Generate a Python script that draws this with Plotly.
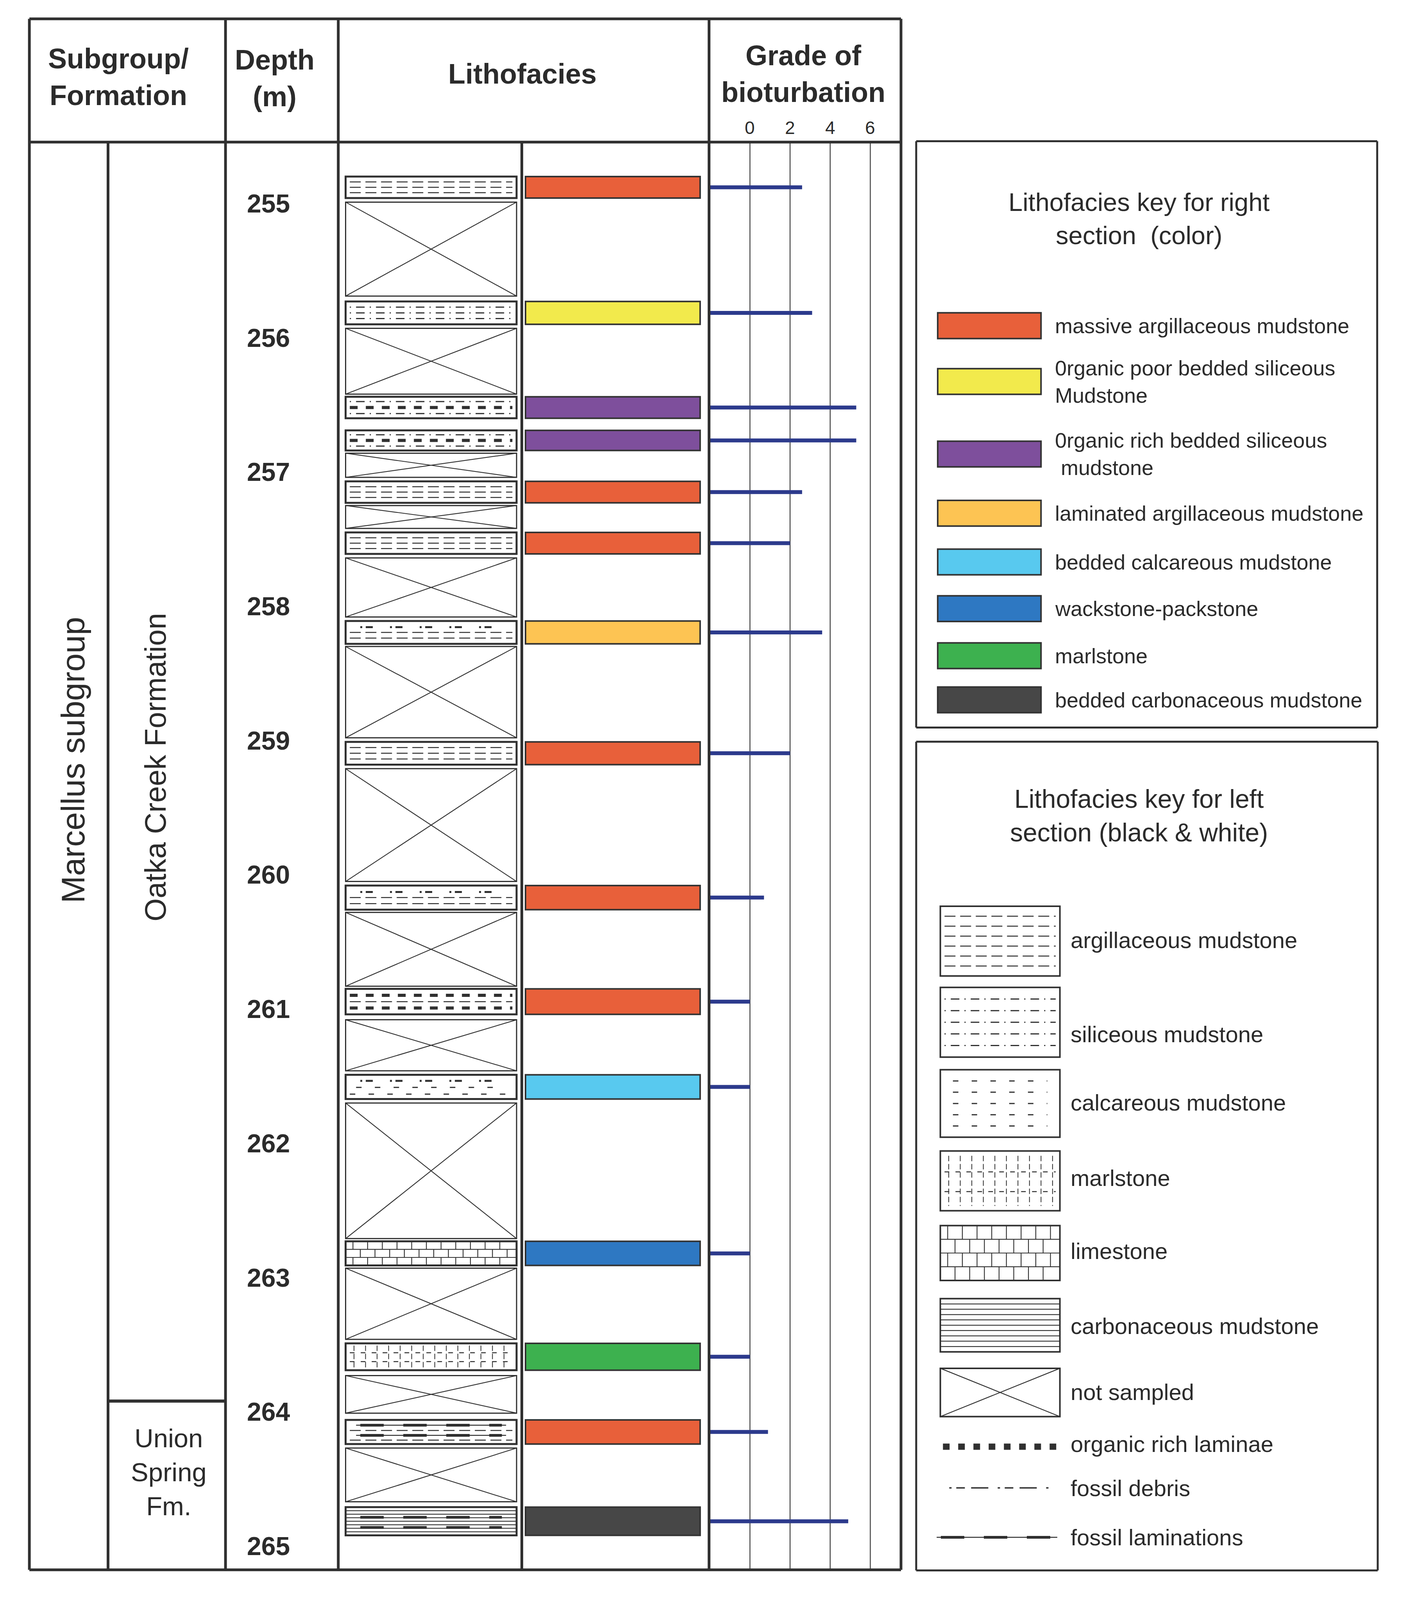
import numpy as np
import plotly.graph_objects as go

# -----------------------------
# data (depth in m)
bed_top = [254.80, 255.73, 256.44, 256.69, 257.07, 257.45, 258.11, 259.01,
           260.08, 260.85, 261.49, 262.73, 263.49, 264.06, 264.71]
bed_base = [254.96, 255.90, 256.60, 256.84, 257.23, 257.61, 258.28, 259.18,
            260.26, 261.04, 261.67, 262.91, 263.69, 264.24, 264.92]
bw_facies = ["arg", "sil", "calc", "calc", "arg", "arg", "arg", "arg",
             "arg", "arg", "calc", "lime", "marl", "arg", "carb"]
bw_accessory = ["", "", "org", "org", "", "", "debris", "",
                "debris", "org", "debris", "", "", "foslam", "foslam"]
color_facies = ["massive", "poor", "rich", "rich", "massive", "massive", "laminated", "massive",
                "massive", "massive", "calcareous", "wackstone", "marl", "massive", "carbonaceous"]
bioturbation = [2.6, 3.1, 5.3, 5.3, 2.6, 2.0, 3.6, 2.0, 0.7, 0.0, 0.0, 0.0, 0.0, 0.9, 4.9]

ns_top = [254.99, 255.93, 256.86, 257.25, 257.64, 258.30, 259.21, 260.28, 261.08, 261.70, 262.93, 263.73, 264.27]
ns_base = [255.69, 256.42, 257.04, 257.42, 258.08, 258.98, 260.05, 260.83, 261.46, 262.71, 263.46, 264.01, 264.67]

depth_ticks = [255, 256, 257, 258, 259, 260, 261, 262, 263, 264, 265]
grade_ticks = [0, 2, 4, 6]
union_spring_top = 263.92

key_color_codes = ["massive", "poor", "rich", "laminated", "calcareous", "wackstone", "marl", "carbonaceous"]
key_color_labels = ["massive argillaceous mudstone",
                    "0rganic poor bedded siliceous<br>Mudstone",
                    "0rganic rich bedded siliceous<br> mudstone",
                    "laminated argillaceous mudstone",
                    "bedded calcareous mudstone",
                    "wackstone-packstone",
                    "marlstone",
                    "bedded carbonaceous mudstone"]
key_color_values = ["#E8603A", "#F2EA4C", "#7E4F9C", "#FDC453", "#58C9EF", "#2E78C2", "#3DB14F", "#474747"]

key_bw_codes = ["arg", "sil", "calc", "marl", "lime", "carb", "ns", "org", "debris", "foslam"]
key_bw_labels = ["argillaceous mudstone", "siliceous mudstone", "calcareous mudstone", "marlstone",
                 "limestone", "carbonaceous mudstone", "not sampled", "organic rich laminae",
                 "fossil debris", "fossil laminations"]

FACIES_COLOR = dict(zip(key_color_codes, key_color_values))

# -----------------------------
# page geometry, in units of a 1350-wide canvas
W, H = 3624, 4213
S = W / 1350
CW, CH = 1350, H / S
FIG_H = 4065          # visible height of the browser page
PAD = 8 / S           # body margin of the html page
DEPTH0_Y, PX_PER_M = 198.0, 132.7
GRADE0_X, PX_PER_GRADE = 715.0, 19.12
GRADE_FLOOR = -2.05


def depth_of(yd):
    return 255 + (yd - DEPTH0_Y) / PX_PER_M


TXT = "#2b2b2b"
LINE = "#303030"
FONT = "Liberation Sans, Arial, sans-serif"

T_L, T_R, T_T, H_B, T_B = 28, 859, 15.5, 137.3, 1548.5
BW_X0, BW_X1 = 329.5, 492.5
CL_X0, CL_X1 = 501, 667.5

STYLES = {
    "arg": dict(width=2.5, dash="28px,12px"),
    "sil": dict(width=3, dash="3px,13px,22px,13px"),
    "calc": dict(width=3, dash="14px,34px"),
    "thin": dict(width=2.2, dash="solid"),
    "org": dict(width=8, dash="20px,21px"),
    "orgkey": dict(width=16, dash="17px,22px"),
    "debris": dict(width=5, dash="5px,9px,18px,44px"),
    "debriskey": dict(width=3.5, dash="6px,12px,22px,16px,44px,24px"),
    "foslam": dict(width=7, dash="60px,50px"),
    "foslamthin": dict(width=2.5, dash="solid"),
    "marlv": dict(width=2, dash="14px,7px"),
    "marlh": dict(width=2.5, dash="12px,16px"),
}

shapes, annotations = [], []
segs = {}


def add_seg(style, yref, xa, ya, xb, yb):
    xs, ys = segs.setdefault((style, yref), ([], []))
    xs += [xa, xb, None]
    ys += [ya, yb, None]


def frame(x0, y0, x1, y1, w=7, xref="x", color=LINE, layer="above"):
    shapes.append(dict(type="line", xref=xref, yref="y", x0=x0, y0=y0, x1=x1, y1=y1,
                       line=dict(color=color, width=w), layer=layer))


def box(x0, x1, ya, yb, yref, w, fill="rgba(0,0,0,0)", color=LINE):
    shapes.append(dict(type="rect", xref="x", yref=yref, x0=x0, x1=x1, y0=ya, y1=yb,
                       line=dict(color=color, width=w), fillcolor=fill, layer="below"))


def text(x, y, s, size, xref="x", yref="y", bold=False, xanchor="center", angle=0):
    annotations.append(dict(x=x, y=y, xref=xref, yref=yref, text=s, showarrow=False,
                            xanchor=xanchor, yanchor="middle", textangle=angle,
                            align="left" if xanchor == "left" else "center",
                            font=dict(family=FONT, size=size, color=TXT,
                                      weight="bold" if bold else "normal")))


def lamination(yref, xa, xb, y):
    add_seg("foslamthin", yref, xa, y, xb, y)
    add_seg("foslam", yref, xa + 4, y, xb - 4, y)


def pattern(code, acc, x0, x1, ya, yb, yref, key=False):
    def row(f, style, m=4):
        y = ya + f * (yb - ya)
        add_seg(style, yref, x0 + m, y, x1 - m, y)

    def lam(f):
        lamination(yref, x0 + 10, x1 - 10, ya + f * (yb - ya))

    if code == "arg":
        if key:
            for i in range(6):
                row((i + 1) / 7, "arg")
        elif acc == "org":
            row(0.25, "org"); row(0.5, "arg"); row(0.75, "org")
        elif acc == "debris":
            row(0.27, "debris", 14); row(0.5, "arg"); row(0.75, "arg")
        elif acc == "foslam":
            lam(0.22); row(0.44, "arg"); lam(0.64); row(0.84, "arg")
        else:
            row(0.25, "arg"); row(0.5, "arg"); row(0.75, "arg")
    elif code == "sil":
        n = 5 if key else 3
        for i in range(n):
            row((i + 1) / (n + 1), "sil")
    elif code == "calc":
        if key:
            for i in range(5):
                row((i + 1) / 6, "calc", 12)
        elif acc == "org":
            row(0.22, "sil"); row(0.5, "org"); row(0.78, "sil")
        elif acc == "debris":
            row(0.25, "debris", 14); row(0.52, "calc", 10); row(0.8, "calc")
        else:
            row(0.25, "calc"); row(0.5, "calc"); row(0.75, "calc")
    elif code == "lime":
        n = 4 if key else 3
        step = 14
        for r in range(n):
            if r > 0:
                row(r / n, "thin", 0)
            off = (r % 2) * step / 2
            for xv in np.arange(x0 + step / 2 + off, x1 - 2, step):
                add_seg("thin", yref, xv, ya + r / n * (yb - ya), xv, ya + (r + 1) / n * (yb - ya))
    elif code == "marl":
        for xv in np.arange(x0 + 8, x1 - 4, 11):
            add_seg("marlv", yref, xv, ya + 0.08 * (yb - ya), xv, ya + 0.92 * (yb - ya))
        row(0.35, "marlh"); row(0.68, "marlh")
    elif code == "carb":
        n = 9 if key else 7
        for i in range(n):
            row((i + 1) / (n + 1), "thin", 0)
        if acc == "foslam":
            row(0.36, "foslam", 14); row(0.72, "foslam", 14)
    elif code == "ns":
        add_seg("thin", yref, x0, ya, x1, yb)
        add_seg("thin", yref, x0, yb, x1, ya)


# -----------------------------
# left black & white section
for top, base, fac, acc in zip(bed_top, bed_base, bw_facies, bw_accessory):
    box(BW_X0, BW_X1, top, base, "y2", 5, fill="white")
    pattern(fac, acc, BW_X0, BW_X1, top, base, "y2")
for top, base in zip(ns_top, ns_base):
    box(BW_X0, BW_X1, top, base, "y2", 3, fill="white")
    pattern("ns", "", BW_X0, BW_X1, top, base, "y2")

# right colour section
for top, base, fac in zip(bed_top, bed_base, color_facies):
    shapes.append(dict(type="rect", xref="x", yref="y2", x0=CL_X0, x1=CL_X1, y0=top, y1=base,
                       fillcolor=FACIES_COLOR[fac], line=dict(color="#333333", width=4)))

# bioturbation grid
for g in grade_ticks:
    frame(g, H_B, g, T_B, w=2.5, xref="x2", color="#454545", layer="below")
    text(g, 123, str(g), 46, xref="x2")

# -----------------------------
# table frame
frame(T_L, T_T, T_R, T_T)
frame(T_L, T_B, T_R, T_B)
frame(T_L, H_B, T_R, H_B)
for xv in [T_L, 215, 322.5, 676, T_R]:
    frame(xv, T_T, xv, T_B)
for xv in [103, 497.5]:
    frame(xv, H_B, xv, T_B)
shapes.append(dict(type="line", xref="x", yref="y2", x0=103, x1=215,
                   y0=union_spring_top, y1=union_spring_top,
                   line=dict(color=LINE, width=8), layer="above"))

text(113, 73, "Subgroup/<br>Formation", 72, bold=True)
text(262, 74, "Depth<br>(m)", 72, bold=True)
text(498, 70, "Lithofacies", 72, bold=True)
text(766, 70, "Grade of<br>bioturbation", 72, bold=True)
text(70, 748, "Marcellus subgroup", 84, angle=-90)
text(148, 755, "Oatka Creek Formation", 76, angle=-90)
text(161, 1452, "Union<br>Spring<br>Fm.", 67)
for d in depth_ticks:
    text(256, d, str(d), 66, yref="y2", bold=True)

# -----------------------------
# colour key
frame(873.5, 136.5, 1313, 136.5, w=5)
frame(873.5, 716, 1313, 716, w=5)
frame(873.5, 136.5, 873.5, 716, w=5)
frame(1313, 136.5, 1313, 716, w=5)
text(1086, 213, "Lithofacies key for right<br>section  (color)", 65)
KEY1_ROWS = [318.8, 374.0, 445.7, 504.2, 552.3, 598.5, 645.0, 688.6]
for yc, lab, col in zip(KEY1_ROWS, key_color_labels, key_color_values):
    shapes.append(dict(type="rect", xref="x", yref="y", x0=894, x1=992.5, y0=yc - 12.7, y1=yc + 12.7,
                       fillcolor=col, line=dict(color="#333333", width=4)))
    text(1005, yc, lab, 54, xanchor="left")

# black & white key
frame(873.5, 730, 1313.5, 730, w=5)
frame(873.5, 1549, 1313.5, 1549, w=5)
frame(873.5, 730, 873.5, 1549, w=5)
frame(1313.5, 730, 1313.5, 1549, w=5)
text(1086, 803, "Lithofacies key for left<br>section (black & white)", 66)
KEY2_BOXES = [(892.6, 961.5), (972.8, 1041.7), (1054.2, 1120.9), (1134.5, 1193.6),
              (1208.2, 1262.5), (1280.4, 1333.0), (1349.3, 1397.0)]
KEY2_LINES = [1426.8, 1467.5, 1516.3]
KEY2_TEXT_Y = [926.2, 1018.9, 1086.7, 1161.0, 1233.2, 1307.5, 1372.6, 1424.1, 1467.5, 1516.3]
for code, (ya, yb) in zip(key_bw_codes, KEY2_BOXES):
    box(896.5, 1010.5, ya, yb, "y", 4, fill="white")
    pattern(code, "", 896.5, 1010.5, ya, yb, "y", key=True)
add_seg("orgkey", "y", 899, KEY2_LINES[0], 1007, KEY2_LINES[0])
add_seg("debriskey", "y", 905, KEY2_LINES[1], 1000, KEY2_LINES[1])
lamination("y", 893, 1008, KEY2_LINES[2])
for yc, lab in zip(KEY2_TEXT_Y, key_bw_labels):
    text(1020, yc, lab, 58, xanchor="left")

# -----------------------------
fig = go.Figure()
for (style, yref), (xs, ys) in segs.items():
    fig.add_trace(go.Scatter(x=xs, y=ys, mode="lines", xaxis="x", yaxis=yref,
                             line=dict(color=LINE, width=STYLES[style]["width"], dash=STYLES[style]["dash"]),
                             hoverinfo="skip", showlegend=False))

# bioturbation bars, from the column edge to the grade value
bx, by = [], []
for top, base, g in zip(bed_top, bed_base, bioturbation):
    ym = (top + base) / 2
    bx += [GRADE_FLOOR, g, None]
    by += [ym, ym, None]
fig.add_trace(go.Scatter(x=bx, y=by, mode="lines", xaxis="x2", yaxis="y2",
                         line=dict(color="#2C3A8C", width=10), hoverinfo="skip", showlegend=False))

x_lo, x_hi = PAD, CW + PAD
fig.update_layout(
    width=W, height=FIG_H,
    margin=dict(l=0, r=0, t=0, b=0),
    paper_bgcolor="white", plot_bgcolor="white",
    showlegend=False,
    xaxis=dict(range=[x_lo, x_hi], visible=False, domain=[0, 1]),
    yaxis=dict(range=[CH, 0], visible=False, domain=[0, 1]),
    xaxis2=dict(range=[(x_lo - GRADE0_X) / PX_PER_GRADE, (x_hi - GRADE0_X) / PX_PER_GRADE],
                visible=False, overlaying="x", anchor="y"),
    yaxis2=dict(range=[depth_of(CH), depth_of(0)], visible=False, overlaying="y", anchor="x"),
    shapes=shapes,
    annotations=annotations,
)

fig.write_html("out.html")
